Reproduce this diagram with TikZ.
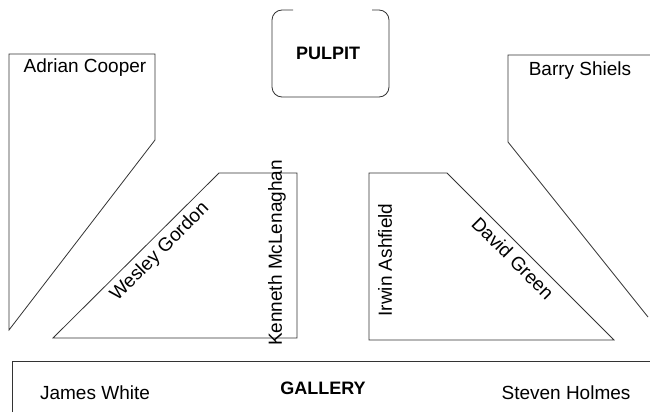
\documentclass[tikz,border=0pt]{standalone}
\usepackage{fontspec}
\setmainfont{Liberation Sans}
\usetikzlibrary{positioning}

\begin{document}
\begin{tikzpicture}[
                x=1pt, y=-1pt,
                wall/.style={draw=black!80, line width=0.8pt},
                person/.style={font=\fontsize{19}{19}\selectfont, inner sep=0pt},
                area/.style={font=\fontsize{18}{18}\selectfont\bfseries, inner sep=0pt},
            ]
            \useasboundingbox (0,0) rectangle (650,412);

            % Pulpit
            \draw[wall, rounded corners=10pt] (293,10) -- (272,10) -- (272,97) -- (389,97) -- (389,10) -- (372,10);
            \node[area] (pulpit) at (328,53) {PULPIT};

            % Side pews
            \draw[wall] (155,140) -- (155,54) -- (9,54) -- (9,330) -- cycle;
            \draw[wall] (650,55) -- (508,55) -- (508,142) -- (648,317);

            % Front pews
            \draw[wall] (53,338) -- (219,173) -- (297,173) -- (297,338) -- cycle;
            \draw[wall] (369,173) -- (447,173) -- (614,340) -- (369,340) -- cycle;

            % Gallery
            \draw[wall] (12,412) -- (12,361) -- (650,361);
            \node[area] (gallery) at (323,388) {GALLERY};

            % Names
            \node[person] (adrian) at (85,68) {Adrian Cooper};
            \node[person] (barry) at (580,71) {Barry Shiels};
            \node[person, rotate=45] (wesley) at (160,252) {Wesley Gordon};
            \node[person, rotate=90] (kenneth) at (277,253) {Kenneth McLenaghan};
            \node[person, rotate=90] (irwin) at (385,260) {Irwin Ashfield};
            \node[person, rotate=-45] (david) at (513,258) {David Green};
            \node[person] (james) at (95,393) {James White};
            \node[person] (steven) at (566,393) {Steven Holmes};

\end{tikzpicture}
\end{document}
